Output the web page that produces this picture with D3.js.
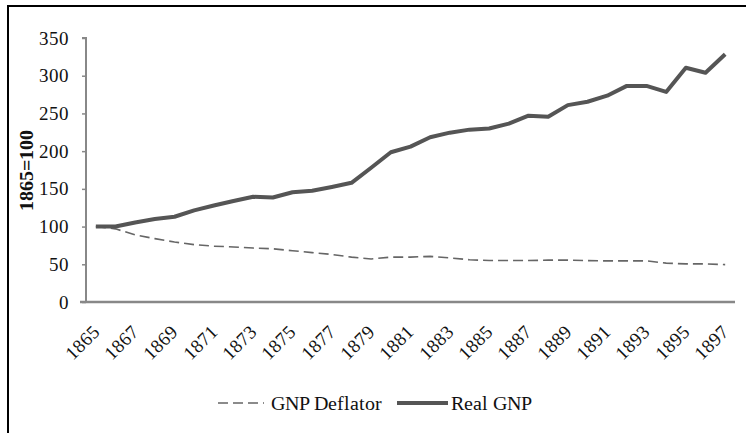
<!DOCTYPE html>
<html><head><meta charset="utf-8"><script src="https://cdn.jsdelivr.net/npm/d3@7"></script>
<style>
@font-face { font-family: "ChartSerif"; src: local("Liberation Serif"), local("LiberationSerif-Regular"), local("Times New Roman"); font-weight: normal; }
@font-face { font-family: "ChartSerif"; src: local("Liberation Serif Bold"), local("LiberationSerif-Bold"), local("Times New Roman Bold"); font-weight: bold; }
svg text { font-family: "ChartSerif", "Liberation Serif", "Times New Roman", serif !important; }
</style>
</head>
<body style="margin:0">
<svg id="chart" width="746" height="433"></svg>
<script>
const years = d3.range(1865, 1898);
const realGNP = [100, 100, 105.5, 110, 113, 121.5, 128, 134, 139.5, 138.5, 145.5, 147.5, 152.5, 158, 178, 198.5,
  206, 218.5, 224.5, 228.5, 230, 236.5, 247, 245.5, 261, 265.5, 273.5, 286.5, 286.5, 278.5, 310.5, 304, 328.5];
const gnpDeflator = [100, 97, 89, 84, 79.5, 76, 74, 73, 71.5, 70.5, 68, 65.5, 63, 59.5, 57, 59.5,
  59.5, 60.5, 58.5, 56, 55, 55, 55, 55.5, 55.5, 54.8, 54.5, 54.5, 54.5, 51.5, 50.5, 50.5, 49.5];
const yTicks = [0, 50, 100, 150, 200, 250, 300, 350];
const xTickLabels = years.filter((y, i) => i % 2 === 0);
const seriesNames = ["GNP Deflator", "Real GNP"];
const yTitle = "1865=100";

const FONT = "Liberation Serif, serif";

const svg = d3.select("#chart");

svg.append("rect").attr("x", 8).attr("y", 6).attr("width", 800).attr("height", 500)
  .attr("fill", "none").attr("stroke", "#000").attr("stroke-width", 2);

const x = d3.scaleBand().domain(years).range([86, 735]);
const cx = d => x(d) + x.bandwidth() / 2;
const y = d3.scaleLinear().domain([0, 350]).range([302, 38]);

// y axis
const yAxis = svg.append("g").attr("transform", "translate(86,0)")
  .call(d3.axisLeft(y).tickValues(yTicks).tickSize(4).tickPadding(13).tickFormat(d3.format("d")));
yAxis.attr("font-family", FONT).attr("font-size", 19);
yAxis.select(".domain").attr("stroke", "#888").attr("stroke-width", 2).attr("d", "M-4,38H0V302");
yAxis.selectAll(".tick line").attr("stroke", "#888").attr("stroke-width", 1.5);
yAxis.selectAll(".tick text").attr("fill", "#111").attr("font-family", FONT).attr("font-size", 19);

// x axis
const xAxis = svg.append("g").attr("transform", "translate(0,302)")
  .call(d3.axisBottom(x).tickValues(xTickLabels).tickSize(0).tickPadding(0));
xAxis.attr("font-family", FONT).attr("font-size", 19);
xAxis.select(".domain").attr("stroke", "#888").attr("stroke-width", 2.5).attr("d", "M80,0H735");
xAxis.selectAll(".tick text")
  .attr("fill", "#111")
  .attr("font-family", FONT).attr("font-size", 19)
  .attr("text-anchor", "end")
  .attr("dy", 0)
  .attr("y", 0)
  .attr("transform", "translate(5,31) rotate(-45)");

// y title
svg.append("text")
  .attr("transform", "translate(33,170) rotate(-90)")
  .attr("text-anchor", "middle")
  .attr("font-family", FONT)
  .attr("font-size", 20).attr("font-weight", "bold")
  .attr("fill", "#111")
  .text(yTitle);

const line = d3.line().x((d, i) => cx(years[i])).y(d => y(d));

svg.append("path").datum(gnpDeflator)
  .attr("d", line).attr("fill", "none")
  .attr("stroke", "#666").attr("stroke-width", 1.6).attr("stroke-dasharray", "10,5");

svg.append("path").datum(realGNP)
  .attr("d", line).attr("fill", "none")
  .attr("stroke", "#555").attr("stroke-width", 4).attr("stroke-linejoin", "round");

// legend
svg.append("line").attr("x1", 218).attr("x2", 264).attr("y1", 403).attr("y2", 403)
  .attr("stroke", "#666").attr("stroke-width", 1.6).attr("stroke-dasharray", "10,5");
svg.append("text").attr("x", 271).attr("y", 410).attr("font-family", FONT).attr("font-size", 20)
  .attr("fill", "#111").text(seriesNames[0]);
svg.append("line").attr("x1", 397).attr("x2", 448).attr("y1", 403).attr("y2", 403)
  .attr("stroke", "#555").attr("stroke-width", 4);
svg.append("text").attr("x", 451).attr("y", 410).attr("font-family", FONT).attr("font-size", 20)
  .attr("fill", "#111").text(seriesNames[1]);
</script></body></html>
